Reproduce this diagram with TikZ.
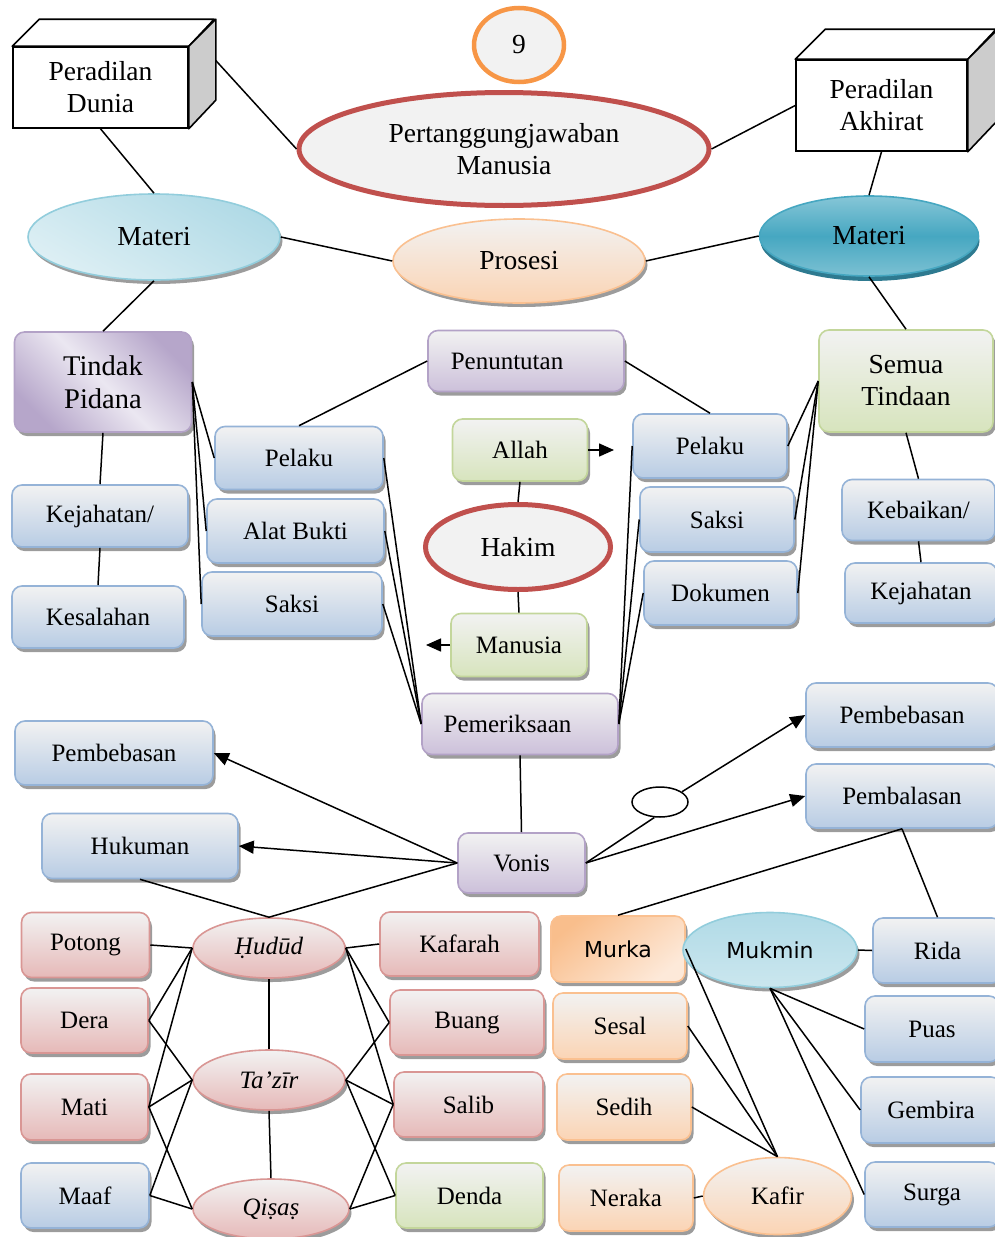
\documentclass[tikz,border=0pt]{standalone}
\usepackage{fontspec}
\setmainfont{Liberation Serif}
\newfontfamily\sansf{DejaVu Sans}
\usetikzlibrary{shapes.geometric,arrows.meta,shadows}

% palette
\definecolor{paleGray}{HTML}{F2F2F2}
\definecolor{rimGray}{HTML}{9C9C9C}
\definecolor{blueLine}{HTML}{95B3D7}
\definecolor{blueFill}{HTML}{B8CCE4}
\definecolor{purpLine}{HTML}{B3A2C7}
\definecolor{purpFill}{HTML}{CCC0DA}
\definecolor{purpDeep}{HTML}{B6A6CA}
\definecolor{purpLight}{HTML}{EBE7F1}
\definecolor{greenLine}{HTML}{C3D69B}
\definecolor{greenFill}{HTML}{D7E4BD}
\definecolor{pinkLine}{HTML}{D99694}
\definecolor{pinkFill}{HTML}{E6B9B8}
\definecolor{orLine}{HTML}{FAC090}
\definecolor{orFill}{HTML}{FBD4B4}
\definecolor{orDeep}{HTML}{F9BE8C}
\definecolor{orLight}{HTML}{FDE9D9}
\definecolor{aquaLine}{HTML}{92CDDC}
\definecolor{aquaFill}{HTML}{B0DAE6}
\definecolor{aquaLight}{HTML}{DDEFF4}
\definecolor{tealMid}{HTML}{46A7C1}
\definecolor{tealTop}{HTML}{86C6D7}
\definecolor{tealBot}{HTML}{7CC1D3}
\definecolor{tealRim}{HTML}{2E7A90}
\definecolor{redRing}{HTML}{C0504D}
\definecolor{orRing}{HTML}{F79646}
\definecolor{cubeSide}{HTML}{CCCCCC}

\tikzset{
  bigtext/.style={font=\fontsize{27.5}{32}\selectfont},
  box/.style={rectangle, rounded corners=10pt, line width=1.6pt, inner sep=0pt,
    align=center,
    general shadow={fill=rimGray, shadow xshift=2.5pt, shadow yshift=-4pt}},
  bluebox/.style={box, draw=blueLine, top color=paleGray, bottom color=blueFill},
  purpbox/.style={box, draw=purpLine, top color=paleGray, bottom color=purpFill},
  greenbox/.style={box, draw=greenLine, top color=paleGray, bottom color=greenFill},
  pinkbox/.style={box, draw=pinkLine, top color=paleGray, bottom color=pinkFill},
  orbox/.style={box, draw=orLine, top color=paleGray, bottom color=orFill},
  oval/.style={ellipse, inner sep=0pt, align=center, line width=1.6pt,
    general shadow={fill=rimGray, shadow xshift=2.5pt, shadow yshift=-4pt}},
  pinkoval/.style={oval, draw=pinkLine, top color=paleGray, bottom color=pinkFill,
    minimum width=152, minimum height=60, font=\fontsize{25}{30}\selectfont\itshape},
  ring/.style={ellipse, inner sep=0pt, align=center, fill=paleGray},
  cubefront/.style={rectangle, draw=black, line width=1.6pt, fill=white,
    inner sep=0pt, align=center, bigtext},
  cubeline/.style={draw=black, line width=1.6pt, line join=round},
  conn/.style={draw=black, line width=1.5pt},
  arr/.style={conn, -{Triangle[length=15pt,width=13pt]}}
}

\begin{document}
\begin{tikzpicture}[x=1pt, y=-1pt, font=\fontsize{25}{31.5}\selectfont]
\useasboundingbox (0,0) rectangle (995,1237);
\clip (0,0) rectangle (995,1237);

% ---------- header ----------
\node[ring, draw=orRing, line width=4.5pt, minimum width=90, minimum height=74, bigtext] (num) at (519,45) {9};
\node[ring, draw=redRing, line width=5pt, minimum width=410, minimum height=113, bigtext] (pm) at (504,149) {Pertanggungjawaban\\Manusia};

% courts drawn as boxes with depth
\node[cubefront, minimum width=175, minimum height=81] (dunia) at (100.5,87.5) {Peradilan\\Dunia};
\draw[cubeline, fill=white] (dunia.north west) -- ++(27,-27) -- ++(175,0) -- (dunia.north east) -- cycle;
\draw[cubeline, fill=cubeSide] (dunia.north east) -- ++(27,-27) -- ++(0,81) -- (dunia.south east) -- cycle;

\node[cubefront, minimum width=171, minimum height=91] (akhirat) at (881.5,105.5) {Peradilan\\Akhirat};
\draw[cubeline, fill=white] (akhirat.north west) -- ++(30,-30) -- ++(171,0) -- (akhirat.north east) -- cycle;
\draw[cubeline, fill=cubeSide] (akhirat.north east) -- ++(30,-30) -- ++(0,91) -- (akhirat.south east) -- cycle;

\node[oval, draw=aquaLine, top color=aquaFill, bottom color=aquaLight, shading angle=-30,
      minimum width=252, minimum height=86, bigtext] (materiL) at (154,237) {Materi};
\node[oval, draw=orLine, top color=paleGray, bottom color=orFill,
      minimum width=252, minimum height=84, bigtext] (prosesi) at (519,261) {Prosesi};
\node[ellipse, inner sep=0pt, line width=1.6pt, draw=tealMid,
      top color=tealTop, bottom color=tealBot, middle color=tealMid,
      general shadow={fill=tealRim, shadow xshift=1pt, shadow yshift=-5pt},
      minimum width=219, minimum height=80, bigtext] (materiR) at (869,236) {Materi};

% ---------- left branch ----------
\node[box, draw=purpLine, top color=purpDeep, bottom color=purpDeep, middle color=purpLight,
      shading angle=-45, minimum width=177, minimum height=100,
      font=\fontsize{28.5}{32.5}\selectfont] (tp) at (103,382) {Tindak\\Pidana};
\node[bluebox, minimum width=176, minimum height=62] (kejL) at (100,516) {Kejahatan/};
\node[bluebox, minimum width=172, minimum height=62] (kesal) at (98,617) {Kesalahan};
\node[bluebox, minimum width=168, minimum height=63] (pelakuL) at (299,458) {Pelaku};
\node[bluebox, minimum width=177, minimum height=64] (alat) at (295.5,531) {Alat Bukti};
\node[bluebox, minimum width=180, minimum height=64] (saksiL) at (292,604) {Saksi};

% ---------- centre column ----------
\node[purpbox, minimum width=196, minimum height=61] (tuntut) at (526,361) {Penuntutan\hspace*{38pt}};
\node[greenbox, minimum width=135, minimum height=62] (allah) at (520,450) {Allah};
\node[ring, draw=redRing, line width=5pt, minimum width=185, minimum height=85, bigtext] (hakim) at (518,547) {Hakim};
\node[greenbox, minimum width=136, minimum height=63] (manusia) at (519,645) {Manusia};
\node[purpbox, minimum width=196, minimum height=61] (periksa) at (520,724) {Pemeriksaan\hspace*{25pt}};
\coordinate (allahTip) at (614,450);
\coordinate (manTip) at (426,645);

% ---------- right branch ----------
\node[box, draw=greenLine, top color=paleGray, bottom color=greenFill,
      minimum width=174, minimum height=102, bigtext] (semua) at (906,381) {Semua\\Tindaan};
\node[bluebox, minimum width=154, minimum height=64] (pelakuR) at (710,446) {Pelaku};
\node[bluebox, minimum width=154, minimum height=65] (saksiR) at (717,519.5) {Saksi};
\node[bluebox, minimum width=153, minimum height=64] (dokumen) at (720.5,593) {Dokumen};
\node[bluebox, minimum width=153, minimum height=61] (kebaikan) at (918.5,510) {Kebaikan/};
\node[bluebox, minimum width=152, minimum height=60] (kejR) at (921,593) {Kejahatan};

% ---------- verdict ----------
\node[bluebox, minimum width=198, minimum height=64] (bebasL) at (114,753) {Pembebasan};
\node[bluebox, minimum width=196, minimum height=65] (hukuman) at (140,846) {Hukuman};
\node[purpbox, minimum width=127, minimum height=60] (vonis) at (521.5,863) {Vonis};
\node[bluebox, minimum width=192, minimum height=64] (bebasR) at (902,715) {Pembebasan};
\node[bluebox, minimum width=192, minimum height=64] (balas) at (902,796) {Pembalasan};
\node[ellipse, draw=black, line width=1.5pt, fill=white, minimum width=56, minimum height=30, inner sep=0pt] (knot) at (660,802) {};

% ---------- punishments ----------
\node[pinkbox, minimum width=128, minimum height=65] (potong) at (85.5,945) {Potong};
\node[pinkbox, minimum width=127, minimum height=65] (dera) at (84.5,1020.5) {Dera};
\node[pinkbox, minimum width=127, minimum height=66] (mati) at (84.5,1107) {Mati};
\node[bluebox, minimum width=128, minimum height=65] (maaf) at (85,1195.5) {Maaf};
\node[pinkoval] (hudud) at (269,948) {Ḥudūd};
\node[pinkoval] (tazir) at (269,1080) {Ta’zīr};
\node[pinkoval, minimum width=156] (qisas) at (271,1209) {Qiṣaṣ};
\node[pinkbox, minimum width=159, minimum height=64] (kafarah) at (459.5,944) {Kafarah};
\node[pinkbox, minimum width=154, minimum height=65] (buang) at (467,1022.5) {Buang};
\node[pinkbox, minimum width=149, minimum height=65] (salib) at (468.5,1104.5) {Salib};
\node[greenbox, minimum width=147, minimum height=65] (denda) at (469.5,1195.5) {Denda};

% ---------- feelings and fates ----------
\node[box, draw=orLine, top color=orDeep, bottom color=orLight, shading angle=40,
      minimum width=134, minimum height=66, font=\sansf\fontsize{22}{26}\selectfont] (murka) at (618,949) {Murka};
\node[oval, draw=aquaLine, top color=aquaFill, bottom color=aquaLight!60!aquaFill,
      minimum width=174, minimum height=75, font=\sansf\fontsize{22}{26}\selectfont] (mukmin) at (770,950) {Mukmin};
\node[orbox, minimum width=134, minimum height=66] (sesal) at (620,1026) {Sesal};
\node[orbox, minimum width=134, minimum height=66] (sedih) at (624,1107) {Sedih};
\node[orbox, minimum width=134, minimum height=66] (neraka) at (626,1198) {Neraka};
\node[oval, draw=orLine, top color=paleGray, bottom color=orFill,
      minimum width=148, minimum height=77] (kafir) at (777.5,1196) {Kafir};
\node[bluebox, minimum width=129, minimum height=65] (rida) at (937.5,950.5) {Rida};
\node[bluebox, minimum width=134, minimum height=66] (puas) at (932,1029) {Puas};
\node[bluebox, minimum width=140, minimum height=66] (gembira) at (931,1110) {Gembira};
\node[bluebox, minimum width=134, minimum height=65] (surga) at (932,1194.5) {Surga};

% ---------- connectors: header ----------
\draw[conn] (dunia.south) -- (materiL.north);
\draw[conn] ([shift={(27,-27)}]dunia.east) -- (pm.west);
\draw[conn] (pm.east) -- (akhirat.west);
\draw[conn] (akhirat.south) -- (materiR.north);
\draw[conn] (materiL.east) -- (prosesi.west);
\draw[conn] (prosesi.east) -- (materiR.west);
\draw[conn] (materiL.south) -- (tp.north);
\draw[conn] (materiR.south) -- (semua.north);

% ---------- connectors: left branch ----------
\draw[conn] (tp.south) -- (kejL.north);
\draw[conn] (kejL.south) -- (kesal.north);
\foreach \n in {pelakuL, alat, saksiL} {
  \draw[conn] (tp.east) -- (\n.west);
  \draw[conn] (\n.east) -- (periksa.west);
}
\draw[conn] (tuntut.west) -- (pelakuL.north);

% ---------- connectors: right branch ----------
\draw[conn] (tuntut.east) -- (pelakuR.north);
\foreach \n in {pelakuR, saksiR, dokumen} {
  \draw[conn] (semua.west) -- (\n.east);
  \draw[conn] (\n.west) -- (periksa.east);
}
\draw[conn] (semua.south) -- (kebaikan.north);
\draw[conn] (kebaikan.south) -- (kejR.north);

% ---------- connectors: centre ----------
\draw[arr] (allah.east) -- (allahTip);
\draw[conn] (allah.south) -- (hakim.north);
\draw[conn] (hakim.south) -- (manusia.north);
\draw[arr] (manusia.west) -- (manTip);
\draw[conn] (periksa.south) -- (vonis.north);

% ---------- connectors: verdict ----------
\draw[arr] (vonis.west) -- (bebasL.east);
\draw[arr] (vonis.west) -- (hukuman.east);
\draw[conn] (vonis.west) -- (hudud.north);
\draw[conn] (hukuman.south) -- (hudud.north);
\draw[conn] (vonis.east) -- (knot.250);
\draw[arr] (knot.25) -- (bebasR.west);
\draw[arr] (vonis.east) -- (balas.west);
\draw[conn] (balas.south) -- (murka.north);
\draw[conn] (balas.south) -- (rida.north);

% ---------- connectors: punishments ----------
\draw[conn] (tazir.north) -- (hudud.south);
\draw[conn] (tazir.south) -- (qisas.north);
\foreach \n in {potong, dera, mati} \draw[conn] (hudud.west) -- (\n.east);
\foreach \n in {dera, mati, maaf} \draw[conn] (tazir.west) -- (\n.east);
\foreach \n in {mati, maaf} \draw[conn] (qisas.west) -- (\n.east);
\foreach \n in {kafarah, buang, salib} \draw[conn] (hudud.east) -- (\n.west);
\foreach \n in {buang, salib, denda} \draw[conn] (tazir.east) -- (\n.west);
\foreach \n in {salib, denda} \draw[conn] (qisas.east) -- (\n.west);

% ---------- connectors: feelings and fates ----------
\foreach \n in {murka, sesal, sedih} \draw[conn] (\n.east) -- (kafir.north);
\draw[conn] (neraka.east) -- (kafir.west);
\draw[conn] (mukmin.east) -- (rida.west);
\foreach \n in {puas, gembira, surga} \draw[conn] (mukmin.south) -- (\n.west);
\end{tikzpicture}
\end{document}
